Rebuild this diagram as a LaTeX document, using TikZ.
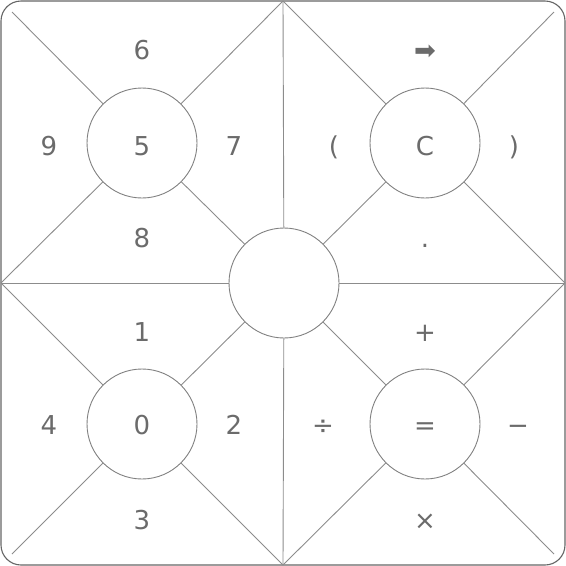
\documentclass[tikz,border=0pt]{standalone}
\usepackage{fontspec}
\setmainfont{DejaVu Sans}
\begin{document}
\begin{tikzpicture}[x=1pt,y=-1pt,
  ln/.style={draw=black!45,line width=0.9pt},
  ring/.style={circle,draw=black!50,line width=0.9pt,minimum size=110pt,inner sep=0pt},
  lbl/.style={inner sep=0pt,anchor=base,text=black!58,font=\fontsize{26}{30}\selectfont}]
\useasboundingbox (0,0) rectangle (566,566);
\draw[draw=black!60,line width=1.1pt,rounded corners=20pt] (1,1) rectangle (565,565);
% circles
\node[ring] (hub) at (284,283) {};
\node[ring] (c5) at (142,143) {};
\node[ring] (cc) at (425,143) {};
\node[ring] (c0) at (142,424) {};
\node[ring] (ceq) at (425,424) {};
% frame points
\coordinate (tl) at (12,12);
\coordinate (tr) at (554,12);
\coordinate (bl) at (12,554);
\coordinate (br) at (554,554);
\coordinate (tm) at (283,1);
\coordinate (bm) at (283,565);
\coordinate (lm) at (1,283);
\coordinate (rm) at (565,283);
% axes
\draw[ln] (tm) -- (hub);
\draw[ln] (bm) -- (hub);
\draw[ln] (lm) -- (hub);
\draw[ln] (rm) -- (hub);
% top-left
\draw[ln] (tl) -- (c5);
\draw[ln] (tm) -- (c5);
\draw[ln] (lm) -- (c5);
\draw[ln] (c5) -- (hub);
% top-right
\draw[ln] (tr) -- (cc);
\draw[ln] (tm) -- (cc);
\draw[ln] (rm) -- (cc);
\draw[ln] (cc) -- (hub);
% bottom-left
\draw[ln] (bl) -- (c0);
\draw[ln] (bm) -- (c0);
\draw[ln] (lm) -- (c0);
\draw[ln] (c0) -- (hub);
% bottom-right
\draw[ln] (br) -- (ceq);
\draw[ln] (bm) -- (ceq);
\draw[ln] (rm) -- (ceq);
\draw[ln] (ceq) -- (hub);
% circle texts
\node[lbl] (t5) at (142,155) {5};
\node[lbl] (tc) at (425,155) {C};
\node[lbl] (t0) at (142,434) {0};
\node[lbl] (teq) at (425,434) {=};
% labels top-left
\node[lbl] (l6) at (142,59) {6};
\node[lbl] (l9) at (49,155) {9};
\node[lbl] (l7) at (234,155) {7};
\node[lbl] (l8) at (142,247) {8};
% labels top-right
\node[lbl] (larr) at (425,59) {➡};
\node[lbl] (lop) at (334,155) {(};
\node[lbl] (lcp) at (514,155) {)};
\node[lbl] (ldot) at (425,247) {.};
% labels bottom-left
\node[lbl] (l1) at (142,341) {1};
\node[lbl] (l4) at (49,434) {4};
\node[lbl] (l2) at (234,434) {2};
\node[lbl] (l3) at (142,529) {3};
% labels bottom-right
\node[lbl] (lplus) at (425,341) {+};
\node[lbl] (ldiv) at (323,434) {÷};
\node[lbl] (lminus) at (518,434) {−};
\node[lbl] (ltimes) at (425,529) {×};
\end{tikzpicture}
\end{document}
